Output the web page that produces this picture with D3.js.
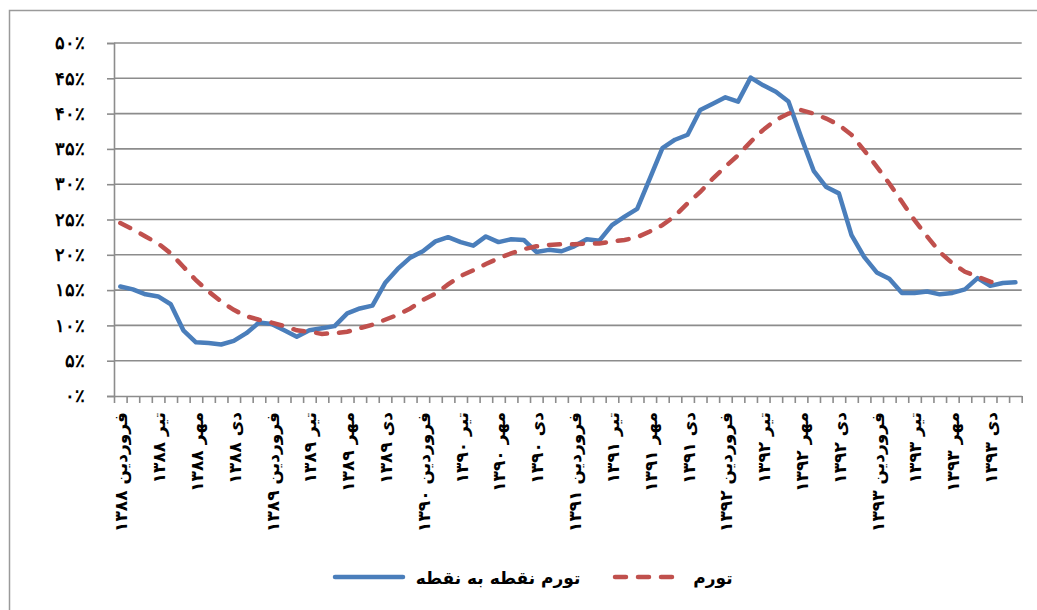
<!DOCTYPE html>
<html lang="fa">
<head>
<meta charset="utf-8">
<script src="https://cdn.jsdelivr.net/npm/d3@7"></script>
<style>
    html, body { margin: 0; padding: 0; background: #fff; }
    svg { display: block; font-family: "DejaVu Sans", sans-serif; }
</style>
</head>
<body>
<div id="chart"></div>
<script>
(function() {
    'use strict';

    // monthly values, farvardin 1388 .. esfand 1393
    const pointInflation = [15.5, 15.1, 14.4, 14.1, 13.0, 9.3, 7.6, 7.5, 7.3, 7.8,
        8.9, 10.4, 10.2, 9.3, 8.4, 9.3, 9.6, 9.9, 11.7, 12.4,
        12.8, 16.0, 18.0, 19.6, 20.5, 21.9, 22.5, 21.8, 21.3, 22.6,
        21.8, 22.2, 22.1, 20.4, 20.7, 20.5, 21.2, 22.2, 22.0, 24.2,
        25.4, 26.5, 30.8, 35.1, 36.3, 37.0, 40.5, 41.4, 42.3, 41.7,
        45.1, 44.0, 43.1, 41.7, 36.7, 31.9, 29.6, 28.7, 22.8, 19.7,
        17.5, 16.6, 14.6, 14.6, 14.8, 14.4, 14.6, 15.1, 16.7, 15.6,
        16.0, 16.1];

    const inflation = [24.5, 23.6, 22.6, 21.6, 20.2, 18.3, 16.4, 14.8, 13.4, 12.2,
        11.3, 10.8, 10.4, 9.9, 9.3, 9.1, 8.8, 8.9, 9.1, 9.6,
        10.1, 10.8, 11.5, 12.4, 13.6, 14.5, 15.8, 17.0, 17.8, 18.7,
        19.5, 20.2, 20.8, 21.2, 21.4, 21.5, 21.5, 21.6, 21.6, 21.9,
        22.1, 22.5, 23.3, 24.2, 25.5, 27.3, 28.9, 30.8, 32.5, 34.1,
        36.0, 37.7, 39.1, 40.0, 40.5, 40.0, 39.3, 38.4, 37.0, 34.8,
        32.5, 30.1, 27.5, 24.9, 22.6, 20.4, 18.8, 17.6, 16.9, 16.2,
        15.7, null];

    const seasonMonths = ['فروردین', 'تیر', 'مهر', 'دی'];
    const years = ['۱۳۸۸', '۱۳۸۹', '۱۳۹۰', '۱۳۹۱', '۱۳۹۲', '۱۳۹۳'];
    const yTicks = [0, 5, 10, 15, 20, 25, 30, 35, 40, 45, 50];
    const yTickLabels = ['۰٪', '۵٪', '۱۰٪', '۱۵٪', '۲۰٪', '۲۵٪', '۳۰٪', '۳۵٪', '۴۰٪', '۴۵٪', '۵۰٪'];
    const seriesNames = ['تورم نقطه به نقطه', 'تورم'];

    const width = 1037, height = 610;
    const left = 114, right = 1021.7, top = 43, bottom = 396;
    const blue = '#4a7ebb', red = '#c0504d', grid = '#8c8c8c';

    const svg = d3.select('#chart').append('svg')
        .attr('width', width)
        .attr('height', height);

    // outer frame (only top & left visible in the picture)
    svg.append('rect')
        .attr('x', 9.5).attr('y', 10.5)
        .attr('width', 1100).attr('height', 700)
        .attr('fill', 'none')
        .attr('stroke', '#9a9a9a')
        .attr('stroke-width', 1.5);

    const n = pointInflation.length;
    const x = d3.scaleBand()
        .domain(d3.range(n))
        .range([left, right])
        .padding(0);
    const xEdge = d3.scaleLinear()
        .domain([0, n])
        .range([left, right]);
    const y = d3.scaleLinear()
        .domain([0, 50])
        .range([bottom, top]);
    const cx = (i) => x(i) + x.bandwidth() / 2;

    // gridlines
    svg.append('g')
        .selectAll('line')
        .data(yTicks.slice(1))
        .join('line')
        .attr('x1', left).attr('x2', right)
        .attr('y1', (d) => y(d)).attr('y2', (d) => y(d))
        .attr('stroke', grid)
        .attr('stroke-width', 1.6);

    // y axis
    const yAxis = svg.append('g')
        .attr('transform', 'translate(' + left + ',0)')
        .call(d3.axisLeft(y)
            .tickValues(yTicks)
            .tickSize(7)
            .tickPadding(22)
            .tickFormat((d, i) => yTickLabels[i]));
    yAxis.select('.domain').attr('stroke', grid).attr('stroke-width', 1.6);
    yAxis.selectAll('.tick line').attr('stroke', grid).attr('stroke-width', 1.6);
    yAxis.selectAll('.tick text')
        .attr('fill', '#000')
        .style('font-size', '18px')
        .style('font-weight', 'bold');

    // x axis ticks on month boundaries
    const xAxis = svg.append('g')
        .attr('transform', 'translate(0,' + bottom + ')')
        .call(d3.axisBottom(xEdge)
            .tickValues(d3.range(n + 1))
            .tickSize(7)
            .tickSizeOuter(0)
            .tickFormat(''));
    xAxis.select('.domain').attr('stroke', grid).attr('stroke-width', 1.6);
    xAxis.selectAll('.tick line').attr('stroke', grid).attr('stroke-width', 1.6);

    // season labels every 3 months
    const labels = d3.range(0, n, 3).map((i) => ({
        i: i,
        text: seasonMonths[(i / 3) % 4] + ' ' + years[Math.floor(i / 12)]
    }));
    svg.append('g')
        .selectAll('text')
        .data(labels)
        .join('text')
        .attr('transform', (d) => 'translate(' + (cx(d.i) + 1) + ',' + (bottom + 16) + ') rotate(-90)')
        .attr('dy', '0.35em')
        .attr('text-anchor', 'end')
        .style('font-size', '17px')
        .style('font-weight', 'bold')
        .text((d) => d.text);

    const line = d3.line()
        .defined((d) => d != null)
        .x((d, i) => cx(i))
        .y((d) => y(d));

    svg.append('path')
        .datum(pointInflation)
        .attr('d', line)
        .attr('fill', 'none')
        .attr('stroke', blue)
        .attr('stroke-width', 4.5)
        .attr('stroke-linejoin', 'round')
        .attr('stroke-linecap', 'round');

    svg.append('path')
        .datum(inflation)
        .attr('d', line)
        .attr('fill', 'none')
        .attr('stroke', red)
        .attr('stroke-width', 4.5)
        .attr('stroke-dasharray', '11,12')
        .attr('stroke-linecap', 'round');

    // legend
    const legend = svg.append('g');
    legend.append('line')
        .attr('x1', 335).attr('x2', 403)
        .attr('y1', 577).attr('y2', 577)
        .attr('stroke', blue)
        .attr('stroke-width', 4.5)
        .attr('stroke-linecap', 'round');
    legend.append('line')
        .attr('x1', 615).attr('x2', 678)
        .attr('y1', 577).attr('y2', 577)
        .attr('stroke', red)
        .attr('stroke-width', 4.5)
        .attr('stroke-dasharray', '11,12')
        .attr('stroke-linecap', 'round');
    legend.selectAll('text')
        .data(seriesNames)
        .join('text')
        .attr('x', (d, i) => i === 0 ? 498 : 713)
        .attr('y', 584)
        .attr('text-anchor', 'middle')
        .style('font-size', '17px')
        .style('font-weight', 'bold')
        .text((d) => d);
})();
</script>
</body>
</html>
